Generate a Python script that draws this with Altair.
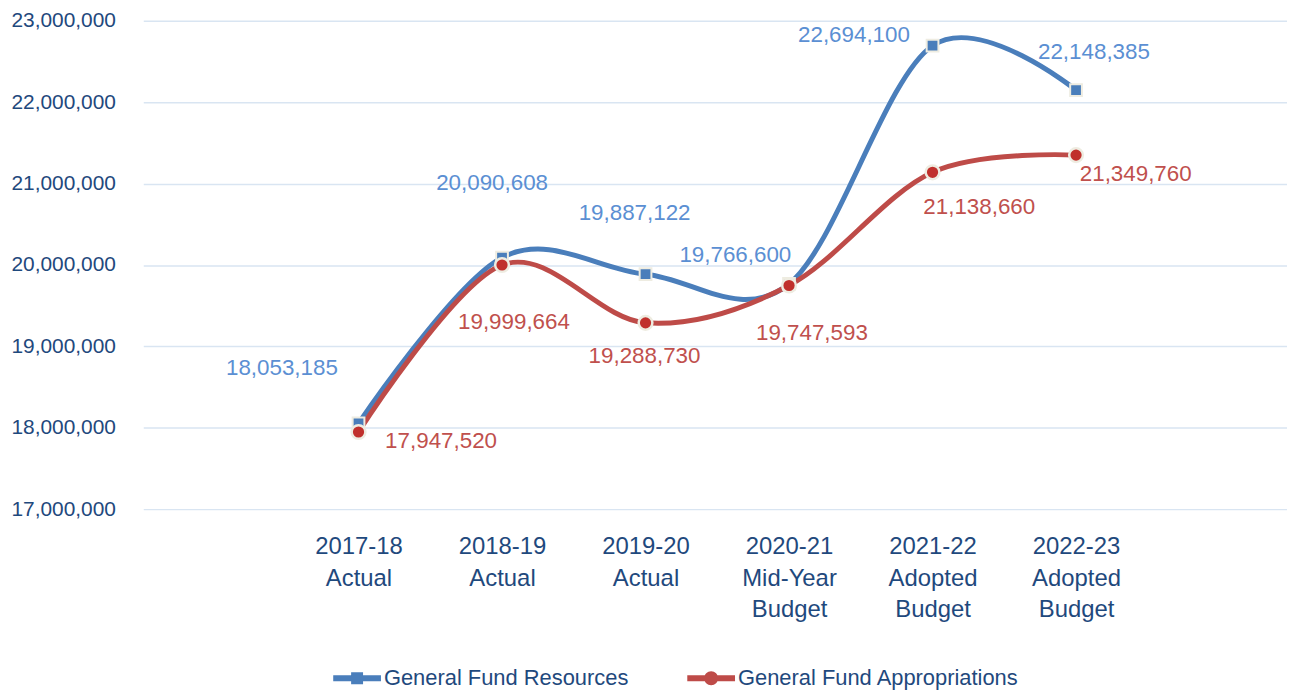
import altair as alt
import pandas as pd

categories = ["2017-18|Actual", "2018-19|Actual", "2019-20|Actual",
              "2020-21|Mid-Year|Budget", "2021-22|Adopted|Budget", "2022-23|Adopted|Budget"]
series_names = ["General Fund Resources", "General Fund Appropriations"]
resources = [18053185, 20090608, 19887122, 19766600, 22694100, 22148385]
appropriations = [17947520, 19999664, 19288730, 19747593, 21138660, 21349760]
y_ticks = [17000000, 18000000, 19000000, 20000000, 21000000, 22000000, 23000000]

# label offsets (style only)
res_offsets = [(-77, -56), (-10, -75), (-11, -61), (-54, -29), (-79, -11), (18, -38)]
app_offsets = [(83, 9), (12, 57), (-1, 33), (23, 48), (47, 35), (60, 19)]

rows = []
for i, c in enumerate(categories):
    rows.append({"cat": c, "series": series_names[0], "value": resources[i], "idx": i})
    rows.append({"cat": c, "series": series_names[1], "value": appropriations[i], "idx": i})
df = pd.DataFrame(rows)

BLUE = "#4a7ebb"
RED = "#be4b48"
BLUE_LBL = "#5b8fd3"
RED_LBL = "#c0504d"
AXIS_C = "#1f497d"
BEIGE = "#eeece1"

cat_array = "[" + ",".join("'" + c + "'" for c in categories) + "]"

x = alt.X("idx:Q", title=None,
          scale=alt.Scale(domain=[-1.5, len(categories) + 0.47], nice=False, zero=False),
          axis=alt.Axis(values=list(range(len(categories))),
                        labelExpr="split(" + cat_array + "[datum.value], '|')",
                        labelAngle=0, labelFontSize=24, labelColor=AXIS_C, labelLineHeight=31.5,
                        labelPadding=26, domain=False, ticks=False, grid=False))
y = alt.Y("value:Q", title=None,
          scale=alt.Scale(domain=[17000000, 23000000], nice=False, zero=False),
          axis=alt.Axis(values=y_ticks, labelExpr="format(datum.value, ',')",
                        labelFontSize=21, labelColor=AXIS_C,
                        labelPadding=28, domain=False, ticks=False, grid=True,
                        gridColor="#d9e5f2", gridWidth=1.5))

color_scale = alt.Scale(domain=series_names, range=[BLUE, RED])

base = alt.Chart(df)

lines = base.mark_line(interpolate="cardinal", tension=0, strokeWidth=5).encode(
    x=x, y=y, detail="series:N",
    color=alt.Color("series:N", scale=color_scale, legend=None),
)

path_sq = "M-2.4,-0.3H2.4V0.3H-2.4Z M-0.6,-0.6H0.6V0.6H-0.6Z"
path_ci = "M-2.4,-0.3H2.4V0.3H-2.4Z M-0.7,0A0.7,0.7,0,1,1,0.7,0A0.7,0.7,0,1,1,-0.7,0Z"

legend = alt.Legend(title=None, orient="none", direction="horizontal",
                    legendX=204, legendY=650,
                    labelFontSize=22, labelColor=AXIS_C, symbolSize=400,
                    symbolStrokeWidth=0, symbolOpacity=1, labelOffset=16,
                    columnPadding=59, labelLimit=400)

legend_layer = base.mark_point(filled=True, opacity=0).encode(
    x=x, y=y,
    color=alt.Color("series:N", scale=color_scale, legend=legend),
    shape=alt.Shape("series:N", scale=alt.Scale(domain=series_names, range=[path_sq, path_ci]),
                    legend=legend),
)

sq = base.transform_filter(alt.datum.series == series_names[0]).mark_point(
    shape="square", filled=True, size=140, fill=BLUE, stroke=BEIGE, strokeWidth=2, opacity=1
).encode(x=x, y=y)
ci = base.transform_filter(alt.datum.series == series_names[1]).mark_point(
    shape="circle", filled=True, size=190, fill="#c0302c", stroke=BEIGE, strokeWidth=2.5, opacity=1
).encode(x=x, y=y)

texts = []
for i in range(len(categories)):
    dx, dy = res_offsets[i]
    texts.append(base.transform_filter(
        (alt.datum.series == series_names[0]) & (alt.datum.idx == i)
    ).mark_text(dx=dx, dy=dy, fontSize=22.5, color=BLUE_LBL, align="center", baseline="middle").encode(
        x=x, y=y, text=alt.Text("value:Q", format=",")))
    dx, dy = app_offsets[i]
    texts.append(base.transform_filter(
        (alt.datum.series == series_names[1]) & (alt.datum.idx == i)
    ).mark_text(dx=dx, dy=dy, fontSize=22.5, color=RED_LBL, align="center", baseline="middle").encode(
        x=x, y=y, text=alt.Text("value:Q", format=",")))

chart = alt.layer(legend_layer, lines, sq, ci, *texts).properties(
    width=1150, height=491,
    padding={"left": 2, "top": 0, "right": 0, "bottom": 0},
).configure(font="Liberation Sans").configure_view(stroke=None)

chart.save("out.html", embed_options={"renderer": "svg", "actions": False})
